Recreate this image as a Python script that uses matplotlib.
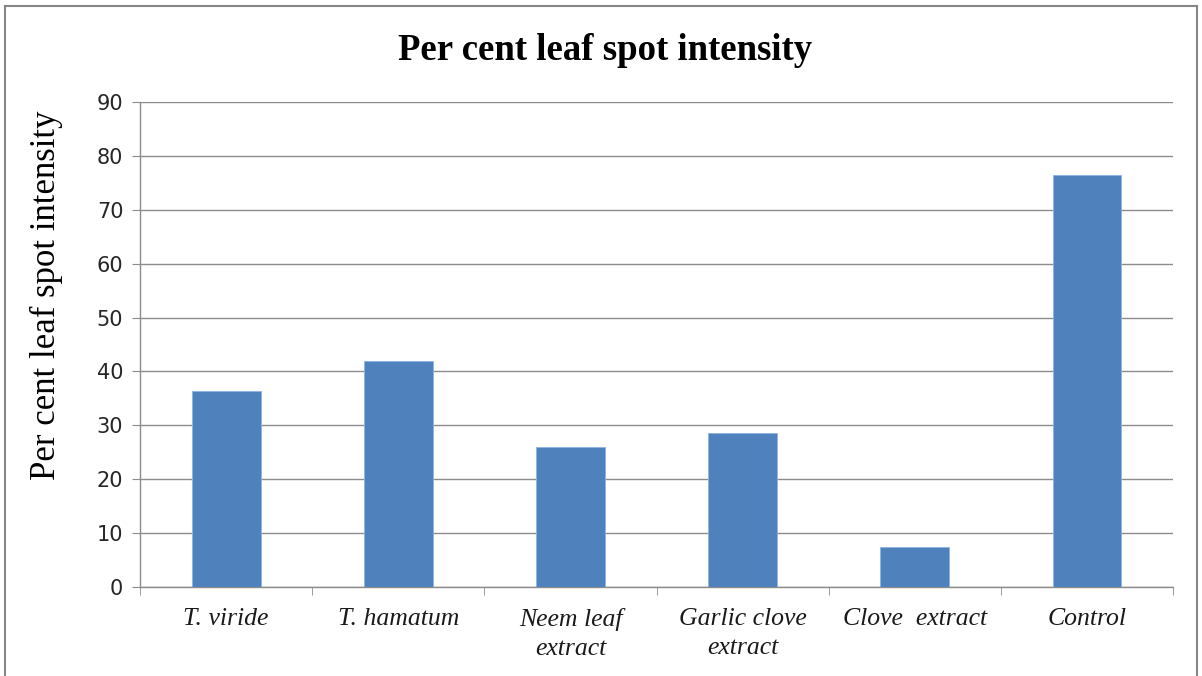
import matplotlib.pyplot as plt
from matplotlib.patches import Rectangle

treatments = ["T. viride", "T. hamatum", "Neem leaf\nextract",
              "Garlic clove\nextract", "Clove  extract", "Control"]
intensity = [36.3, 42.0, 25.9, 28.5, 7.5, 76.4]
yticks = [0, 10, 20, 30, 40, 50, 60, 70, 80, 90]

bar_color = "#4f81bd"
grid_color = "#8c8c8c"

fig = plt.figure(figsize=(12.02, 6.76), dpi=100)
ax = fig.add_axes([0.1165, 0.1317, 0.8594, 0.7174])

x = range(len(treatments))
ax.bar(x, intensity, width=0.4, color=bar_color, edgecolor="#8eb4e3",
       linewidth=0.6, zorder=3)

ax.set_xlim(-0.5, len(treatments) - 0.5)
ax.set_ylim(0, 90)
ax.set_yticks(yticks)
ax.set_yticklabels([str(v) for v in yticks], fontsize=15,
                   family="DejaVu Sans", color="#262626")

# category labels sit between the boundary ticks
ax.set_xticks(x)
ax.set_xticklabels(treatments, fontsize=18.5, family="Liberation Serif",
                   style="italic", linespacing=1.4, color="#1a1a1a")
ax.set_xticks([i - 0.5 for i in range(len(treatments) + 1)], minor=True)
ax.tick_params(axis="x", which="major", length=0, pad=15)
ax.tick_params(axis="x", which="minor", length=6, color=grid_color,
               direction="out")
ax.tick_params(axis="y", length=6, color=grid_color, pad=6)

ax.yaxis.grid(True, color=grid_color, linewidth=1.0, zorder=0)
ax.set_axisbelow(True)
for side in ["top", "right"]:
    ax.spines[side].set_visible(False)
for side in ["left", "bottom"]:
    ax.spines[side].set_color(grid_color)
    ax.spines[side].set_linewidth(1.0)

ax.set_ylabel("Per cent leaf spot intensity", fontsize=25,
              family="Liberation Serif")
ax.yaxis.set_label_coords(-0.0745, 0.602)
fig.text(0.503, 0.925, "Per cent leaf spot intensity", ha="center",
         va="center", fontsize=26.5, fontweight="bold",
         family="Liberation Serif")

# outer chart border
fig.patches.append(Rectangle((5 / 1202, -0.05), 1192 / 1202, 1.05 - 6 / 676,
                             transform=fig.transFigure, fill=False,
                             edgecolor="#868686", linewidth=1.5))

fig.savefig("out.png", dpi=100)
